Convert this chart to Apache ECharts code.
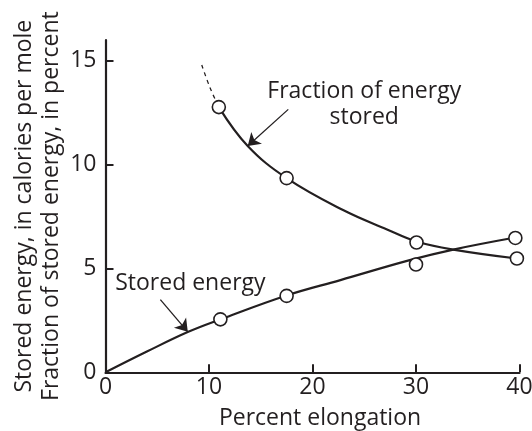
<!DOCTYPE html>
<html>
<head>
<meta charset="utf-8">
<script src="https://cdn.jsdelivr.net/npm/echarts@6/dist/echarts.min.js"></script>
<style>
  html, body { margin: 0; padding: 0; background: #fff; }
  #chart { width: 532px; height: 431px; }
</style>
</head>
<body>
<div id="chart"></div>
<script>
// Measured points (percent elongation, value)
const storedEnergyPoints = [[11.1, 2.55], [17.5, 3.68], [30.0, 5.19], [39.6, 6.47]];
const fractionStoredPoints = [[10.95, 12.77], [17.5, 9.35], [30.05, 6.25], [39.75, 5.48]];

// Fitted curves as drawn
const storedEnergyCurve = [[0, 0], [4.0, 1.0], [8.0, 1.95], [11.1, 2.55], [17.5, 3.70],
  [22.7, 4.44], [29.4, 5.40], [33.6, 5.91], [39.6, 6.49]];
const fractionStoredCurve = [[10.95, 12.77], [13.74, 10.9], [17.5, 9.35], [23.0, 7.8], [27.2, 6.88],
  [30.05, 6.3], [33.6, 5.91], [39.75, 5.48]];
const fractionExtrapolated = [[9.3, 14.8], [10.1, 13.7], [10.95, 12.77]];

// Axis ticks
const xTicks = [0, 10, 20, 30, 40];
const yTicks = [0, 5, 10, 15];

// Annotation labels and their pointer arrows (data coordinates)
const labels = [
  { text: 'Fraction of energy\nstored', at: [25.0, 12.9] },
  { text: 'Stored energy', at: [8.2, 4.3] }
];
const arrows = [
  [[17.66, 12.66], [13.74, 10.9]],
  [[5.3, 3.5], [7.95, 1.95]]
];

const ink = '#231f20';
const font = 'Open Sans';
const fs = 23;

const chart = echarts.init(document.getElementById('chart'));
chart.setOption({
  animation: false,
  textStyle: { fontFamily: font, color: ink },
  grid: { left: 105.5, right: 12.5, top: 40, bottom: 58.7, containLabel: false, outerBoundsMode: 'none' },
  xAxis: {
    type: 'value', min: 0, max: 40, interval: 10,
    name: 'Percent elongation', nameLocation: 'middle', nameGap: 35,
    nameTextStyle: { fontFamily: font, fontSize: fs, color: ink, padding: [0, 0, 0, 15] },
    axisLine: { lineStyle: { color: ink, width: 2.2 } },
    axisTick: { inside: true, length: 8, lineStyle: { color: ink, width: 2 }, customValues: xTicks },
    axisLabel: { fontFamily: font, fontSize: fs, color: ink, margin: 4, customValues: xTicks },
    splitLine: { show: false }
  },
  yAxis: {
    type: 'value', min: 0, max: 16, interval: 5,
    name: 'Stored energy, in calories per mole\nFraction of stored energy, in percent',
    nameLocation: 'middle', nameGap: 41, nameRotate: 90, nameMoveOverlap: false,
    nameTextStyle: { fontFamily: font, fontSize: fs, color: ink, lineHeight: 27 },
    axisLine: { lineStyle: { color: ink, width: 2.2 } },
    axisTick: { inside: true, length: 8, lineStyle: { color: ink, width: 2 }, customValues: yTicks },
    axisLabel: { fontFamily: font, fontSize: fs, color: ink, margin: 9, customValues: yTicks },
    splitLine: { show: false }
  },
  series: [
    {
      type: 'line', data: storedEnergyCurve, smooth: 0.4, symbol: 'none',
      lineStyle: { color: ink, width: 2.2 }, z: 2
    },
    {
      type: 'line', data: fractionStoredCurve, smooth: 0.4, symbol: 'none',
      lineStyle: { color: ink, width: 2.2 }, z: 2
    },
    {
      type: 'line', data: fractionExtrapolated, smooth: 0.4, symbol: 'none',
      lineStyle: { color: ink, width: 1.3, type: [4, 4] }, z: 2
    },
    {
      type: 'scatter', data: storedEnergyPoints.concat(fractionStoredPoints),
      symbol: 'circle', symbolSize: 13,
      itemStyle: { color: '#fff', borderColor: ink, borderWidth: 1.6, opacity: 1 }, z: 5
    },
    {
      type: 'lines', coordinateSystem: 'cartesian2d', polyline: false,
      symbol: ['none', 'arrow'], symbolSize: [0, 12],
      data: arrows.map(a => ({ coords: a })),
      lineStyle: { color: ink, width: 1.3, opacity: 1 }, z: 4
    }
  ]
});

// Place the annotation text at data positions
chart.setOption({
  graphic: labels.map(l => {
    const p = chart.convertToPixel({ gridIndex: 0 }, l.at);
    return {
      type: 'text', x: p[0], y: p[1],
      style: {
        text: l.text, fontFamily: font, fontSize: fs, fill: ink,
        align: 'center', verticalAlign: 'middle', lineHeight: 26
      }
    };
  })
});
</script>
</body>
</html>
